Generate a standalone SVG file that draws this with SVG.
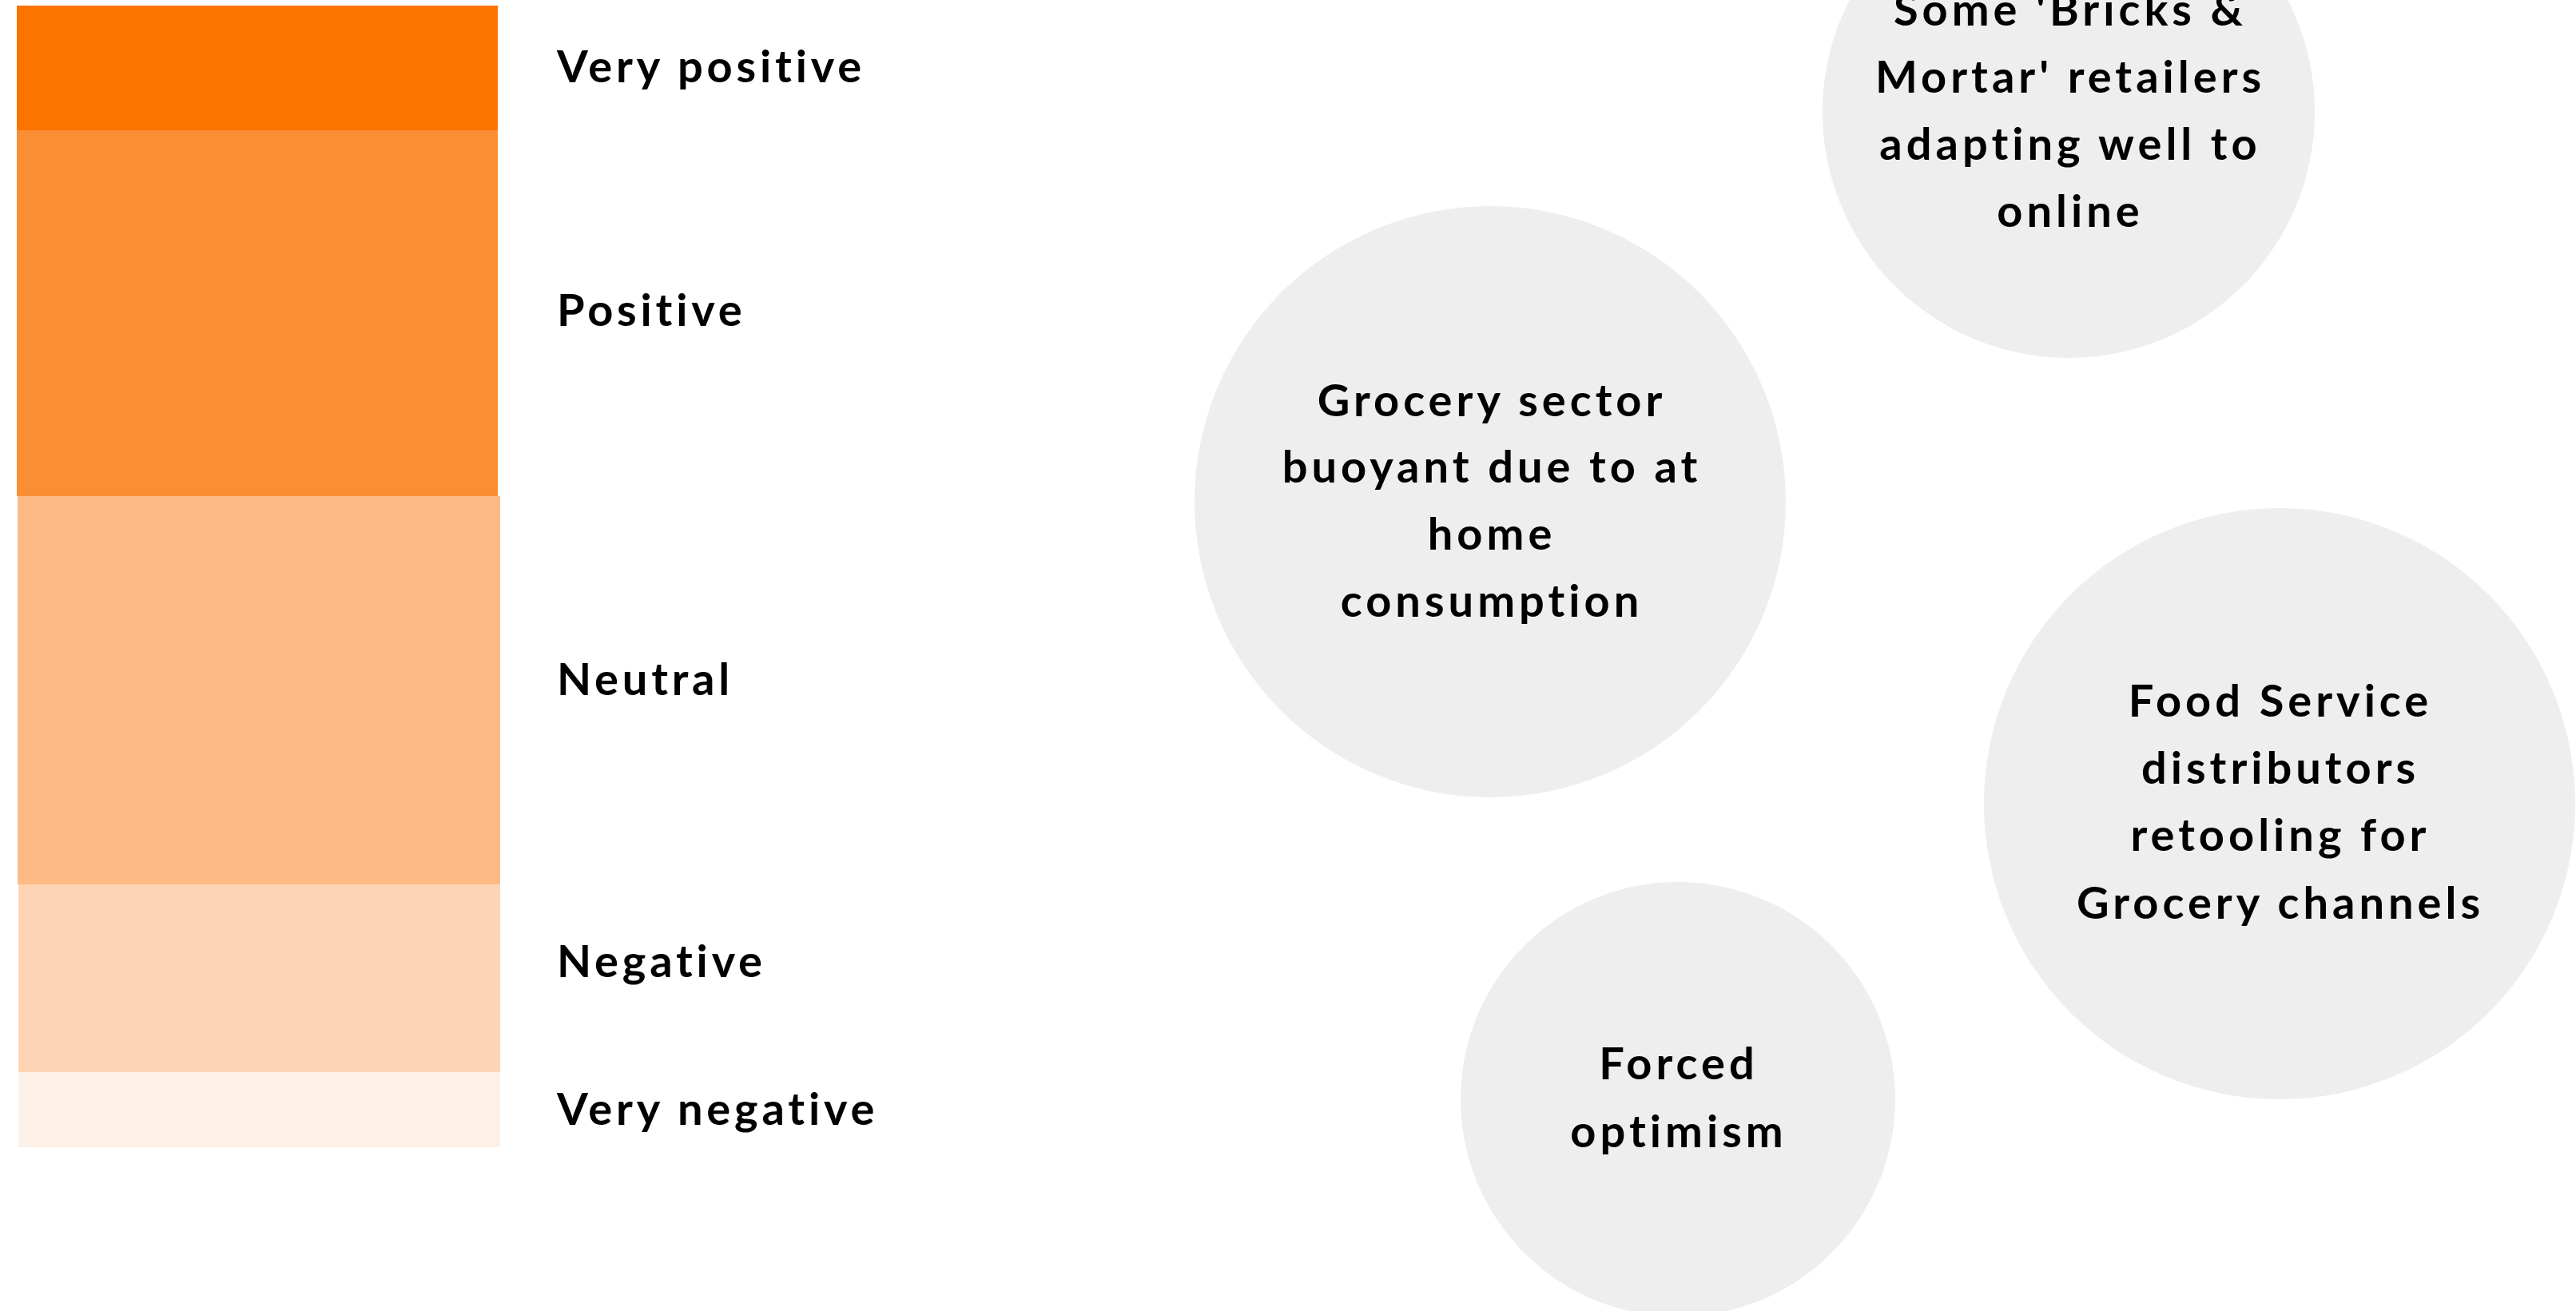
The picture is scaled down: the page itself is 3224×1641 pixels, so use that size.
<svg xmlns="http://www.w3.org/2000/svg" width="3224" height="1641" viewBox="0 0 3224 1641">
  <style>
    .label { font-family: "Lato", "Liberation Sans", sans-serif; font-weight: 700; font-size: 56px; letter-spacing: 4.8px; fill: #000; }
    .bubble { fill: #EEEEEE; }
    .btext { font-family: "Lato", "Liberation Sans", sans-serif; font-weight: 700; font-size: 56px; letter-spacing: 5px; fill: #000; text-anchor: middle; }
  </style>
  <rect width="3224" height="1641" fill="#FFFFFF"/>

  <!-- sentiment scale -->
  <g id="scale">
    <rect x="21" y="7" width="602" height="156" fill="#FC7400"/>
    <rect x="21" y="163" width="602" height="458" fill="#FA8E34"/>
    <rect x="22" y="621" width="604" height="486" fill="#FDBA85"/>
    <rect x="23" y="1107" width="603" height="235" fill="#FDD5B5"/>
    <rect x="23" y="1342" width="603" height="94" fill="#FDF0E6"/>
  </g>

  <g id="labels">
    <text class="label" x="697" y="103">Very positive</text>
    <text class="label" x="697" y="408">Positive</text>
    <text class="label" x="697" y="870">Neutral</text>
    <text class="label" x="697" y="1223">Negative</text>
    <text class="label" x="697" y="1408">Very negative</text>
  </g>

  <!-- theme bubbles -->
  <g id="bricks-mortar">
    <circle class="bubble" cx="2589" cy="140" r="308"/>
    <text class="btext" x="2591" y="32">Some 'Bricks &amp;</text>
    <text class="btext" x="2591" y="116">Mortar' retailers</text>
    <text class="btext" x="2591" y="200">adapting well to</text>
    <text class="btext" x="2591" y="284">online</text>
  </g>

  <g id="grocery-sector">
    <circle class="bubble" cx="1865" cy="628" r="370"/>
    <text class="btext" x="1867" y="521">Grocery sector</text>
    <text class="btext" x="1867" y="604">buoyant due to at</text>
    <text class="btext" x="1867" y="688">home</text>
    <text class="btext" x="1867" y="772">consumption</text>
  </g>

  <g id="food-service">
    <circle class="bubble" cx="2853" cy="1006" r="370"/>
    <text class="btext" x="2854" y="897">Food Service</text>
    <text class="btext" x="2854" y="981">distributors</text>
    <text class="btext" x="2854" y="1065">retooling for</text>
    <text class="btext" x="2854" y="1150">Grocery channels</text>
  </g>

  <g id="forced-optimism">
    <circle class="bubble" cx="2100" cy="1376" r="272"/>
    <text class="btext" x="2101" y="1351">Forced</text>
    <text class="btext" x="2101" y="1436">optimism</text>
  </g>

  <g id="connectors"/>
</svg>
